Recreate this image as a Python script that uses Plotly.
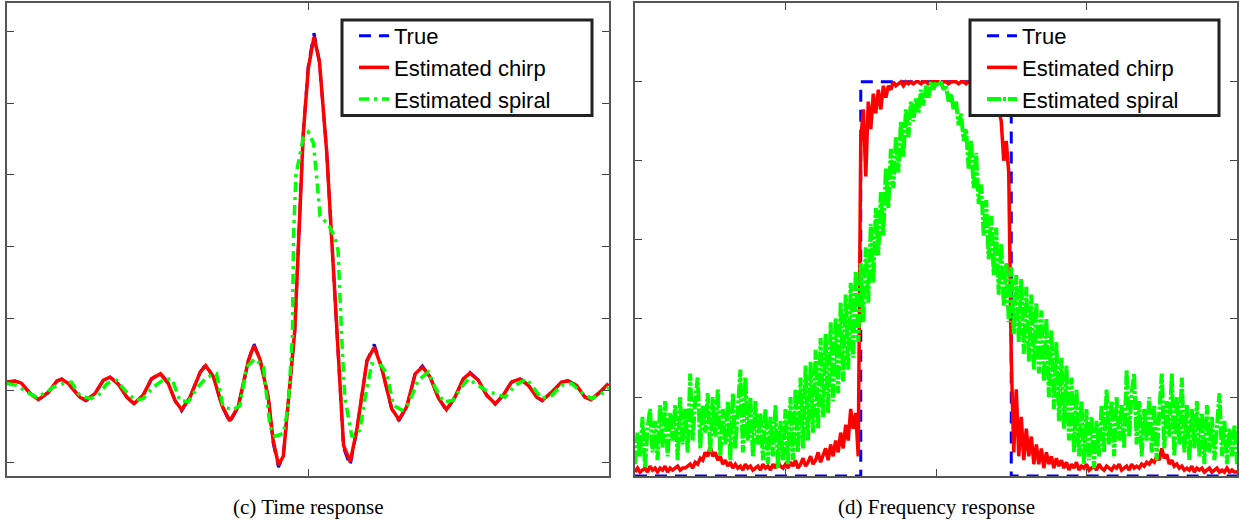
import numpy as np
import plotly.graph_objects as go

# ---------------- (c) Time response ----------------
t_chirp = [-50, -48.7, -47.6, -46.2, -44.8, -43.1, -41.7, -40.9, -39.8, -37.9,
           -36.9, -35.4, -34.0, -32.9, -31.5, -30.1, -28.9, -27.4, -26.0, -24.5,
           -23.2, -22.1, -21.0, -19.6, -17.9, -17.0, -15.7, -14.3, -13.0, -11.6,
           -9.9, -9.0, -8.0, -6.6, -5.8, -4.9, -4.1, -3.0, -2.2, -0.8,
           0.05, 1.0, 1.9, 3.1, 4.6, 5.9, 7.0, 8.1, 9.8, 11.0,
           12.2, 13.9, 15.1, 16.4, 17.8, 19.0, 20.3, 21.6, 23.0, 24.4,
           25.8, 26.9, 28.3, 29.7, 31.1, 32.4, 33.8, 35.2, 36.6, 38.0,
           38.9, 40.5, 42.1, 43.2, 44.6, 46.0, 47.0, 48.5, 49.9]
chirp_time = [0.023, 0.026, 0.020, -0.008, -0.026, -0.005, 0.026, 0.031, 0.019, -0.019,
              -0.028, -0.009, 0.028, 0.037, 0.017, -0.019, -0.037, -0.014, 0.032, 0.046,
              0.019, -0.028, -0.054, -0.019, 0.051, 0.069, 0.037, -0.042, -0.085, -0.046,
              0.083, 0.125, 0.088, -0.019, -0.139, -0.208, -0.183, 0.028, 0.166, 0.712,
              0.897, 0.985, 0.915, 0.666, 0.210, -0.153, -0.199, -0.111, 0.083, 0.120,
              0.065, -0.051, -0.081, -0.046, 0.046, 0.065, 0.037, -0.019, -0.054, -0.019,
              0.032, 0.048, 0.028, -0.014, -0.037, -0.014, 0.023, 0.032, 0.014, -0.019,
              -0.028, -0.005, 0.023, 0.026, 0.014, -0.019, -0.026, -0.005, 0.019]
true_time = [0.023, 0.026, 0.020, -0.008, -0.027, -0.005, 0.026, 0.032, 0.019, -0.019,
             -0.029, -0.009, 0.028, 0.038, 0.017, -0.019, -0.039, -0.014, 0.032, 0.048,
             0.019, -0.028, -0.057, -0.019, 0.051, 0.072, 0.037, -0.042, -0.090, -0.046,
             0.083, 0.130, 0.088, -0.019, -0.145, -0.214, -0.183, 0.028, 0.166, 0.712,
             0.905, 0.995, 0.915, 0.666, 0.210, -0.160, -0.210, -0.111, 0.083, 0.128,
             0.065, -0.051, -0.085, -0.046, 0.046, 0.068, 0.037, -0.019, -0.057, -0.019,
             0.032, 0.050, 0.028, -0.014, -0.039, -0.014, 0.023, 0.034, 0.014, -0.019,
             -0.029, -0.005, 0.023, 0.027, 0.014, -0.019, -0.027, -0.005, 0.019]
t_spiral = [-50, -48.4, -46.7, -45.1, -43.4, -42.3, -40.6, -39.3, -37.9, -36.2,
            -34.8, -33.4, -31.8, -30.4, -28.7, -27.4, -25.7, -24.0, -22.6, -21.3,
            -19.9, -18.5, -16.8, -15.2, -14.1, -12.4, -11.3, -10.2, -8.8, -7.4,
            -6.3, -5.5, -4.1, -3.3, -2.6, -2.4, -2.0, -1.3, -0.8, 0.05,
            0.9, 1.4, 2.0, 3.4, 4.5, 5.0, 5.3, 5.6, 6.1, 7.3,
            8.6, 9.5, 10.6, 12.2, 13.1, 14.2, 15.6, 16.7, 18.3, 20.0,
            21.1, 22.5, 24.1, 25.5, 26.6, 28.3, 30.0, 31.1, 32.7, 34.4,
            36.3, 37.4, 38.8, 40.5, 42.1, 43.8, 45.4, 47.1, 48.8, 49.9]
spiral_time = [0.019, 0.014, -0.005, -0.019, -0.005, 0.009, 0.019, 0.023, -0.014, -0.023,
               -0.014, 0.019, 0.028, 0.0, -0.028, -0.023, 0.009, 0.030, 0.032, -0.028,
               -0.032, 0.005, 0.037, 0.046, -0.046, -0.054, -0.042, 0.065, 0.088, 0.065,
               -0.102, -0.128, -0.120, -0.046, 0.148, 0.435, 0.601, 0.657, 0.703, 0.719,
               0.689, 0.601, 0.485, 0.462, 0.425, 0.388, 0.250, 0.148, -0.019, -0.130,
               -0.111, -0.019, 0.074, 0.069, 0.046, -0.042, -0.055, -0.037, 0.028, 0.051,
               0.009, -0.032, -0.028, 0.009, 0.032, 0.014, -0.005, -0.009, -0.019, 0.014,
               0.032, 0.009, -0.023, -0.014, 0.014, 0.019, -0.005, -0.023, -0.009, 0.009]

# ---------------- (d) Frequency response ----------------
freq_true = [0, 1.5, 1.5, 2.5, 2.5, 4]
true_freq = [0, 0, 1, 1, 0, 0]
freq_bins = np.linspace(0, 4, 241)
chirp_freq = [
    0.01, 0.02, 0.01, 0.015, 0.02, 0.01, 0.025, 0.015, 0.02, 0.01,
    0.02, 0.015, 0.025, 0.01, 0.02, 0.015, 0.02, 0.025, 0.015, 0.02,
    0.02, 0.025, 0.03, 0.02, 0.035, 0.03, 0.045, 0.04, 0.06, 0.05,
    0.075, 0.05, 0.06, 0.04, 0.05, 0.03, 0.04, 0.025, 0.035, 0.02,
    0.03, 0.02, 0.025, 0.015, 0.03, 0.02, 0.025, 0.015, 0.02, 0.025,
    0.015, 0.03, 0.02, 0.025, 0.015, 0.03, 0.02, 0.035, 0.025, 0.02,
    0.03, 0.02, 0.035, 0.025, 0.04, 0.02, 0.03, 0.045, 0.025, 0.035,
    0.05, 0.03, 0.04, 0.06, 0.035, 0.05, 0.07, 0.04, 0.08, 0.05,
    0.09, 0.06, 0.11, 0.07, 0.13, 0.09, 0.17, 0.12, 0.16, 0.05,
    0.85, 0.93, 0.76, 0.95, 0.88, 0.97, 0.92, 0.98, 0.93, 0.99,
    0.96, 0.99, 0.98, 1.0, 0.99, 0.995, 1.0, 0.99, 1.0, 0.995,
    1.0, 0.995, 1.0, 1.0, 0.995, 1.0, 1.0, 0.995, 1.0, 1.0,
    1.0, 1.0, 0.995, 1.0, 1.0, 0.995, 1.0, 1.0, 1.0, 0.995,
    1.0, 1.0, 0.995, 1.0, 1.0, 0.995, 1.0, 0.99, 1.0, 0.995,
    1.0, 0.99, 0.995, 0.98, 0.99, 0.93, 0.90, 0.80, 0.85, 0.77,
    0.30, 0.06, 0.22, 0.05, 0.15, 0.04, 0.12, 0.05, 0.10, 0.03,
    0.08, 0.03, 0.07, 0.02, 0.06, 0.03, 0.05, 0.02, 0.045, 0.025,
    0.04, 0.02, 0.035, 0.015, 0.03, 0.02, 0.035, 0.015, 0.025, 0.02,
    0.03, 0.015, 0.02, 0.025, 0.015, 0.03, 0.02, 0.015, 0.025, 0.02,
    0.015, 0.025, 0.02, 0.03, 0.015, 0.02, 0.025, 0.015, 0.03, 0.02,
    0.025, 0.02, 0.03, 0.025, 0.035, 0.03, 0.04, 0.035, 0.05, 0.04,
    0.07, 0.045, 0.055, 0.03, 0.04, 0.025, 0.03, 0.02, 0.025, 0.015,
    0.02, 0.015, 0.025, 0.01, 0.02, 0.015, 0.02, 0.01, 0.015, 0.02,
    0.01, 0.015, 0.02, 0.01, 0.015, 0.01, 0.02, 0.01, 0.015, 0.01,
    0.01]
spiral_freq = [
    0.03, 0.11, 0.05, 0.15, 0.02, 0.12, 0.17, 0.06, 0.14, 0.04,
    0.18, 0.07, 0.19, 0.05, 0.16, 0.09, 0.18, 0.04, 0.20, 0.08,
    0.17, 0.06, 0.26, 0.09, 0.19, 0.25, 0.07, 0.18, 0.11, 0.21,
    0.06, 0.20, 0.10, 0.22, 0.05, 0.17, 0.08, 0.19, 0.04, 0.21,
    0.07, 0.18, 0.27, 0.06, 0.25, 0.09, 0.20, 0.05, 0.19, 0.08,
    0.16, 0.04, 0.17, 0.03, 0.15, 0.05, 0.18, 0.02, 0.14, 0.04,
    0.17, 0.03, 0.20, 0.04, 0.22, 0.06, 0.25, 0.07, 0.28, 0.09,
    0.29, 0.11, 0.32, 0.12, 0.35, 0.15, 0.36, 0.16, 0.39, 0.19,
    0.40, 0.21, 0.44, 0.24, 0.46, 0.27, 0.49, 0.30, 0.52, 0.34,
    0.54, 0.39, 0.58, 0.44, 0.64, 0.49, 0.68, 0.56, 0.72, 0.61,
    0.78, 0.68, 0.83, 0.73, 0.86, 0.77, 0.90, 0.81, 0.93, 0.86,
    0.95, 0.90, 0.96, 0.92, 0.98, 0.94, 0.99, 0.96, 1.0, 0.98,
    1.0, 0.99, 1.0, 0.98, 0.99, 0.95, 0.97, 0.93, 0.95, 0.89,
    0.92, 0.85, 0.88, 0.78, 0.85, 0.73, 0.82, 0.69, 0.74, 0.61,
    0.70, 0.55, 0.66, 0.51, 0.63, 0.46, 0.59, 0.43, 0.54, 0.39,
    0.53, 0.36, 0.51, 0.34, 0.50, 0.31, 0.48, 0.29, 0.46, 0.27,
    0.44, 0.26, 0.42, 0.24, 0.40, 0.20, 0.37, 0.17, 0.34, 0.14,
    0.30, 0.12, 0.28, 0.09, 0.25, 0.06, 0.22, 0.05, 0.19, 0.03,
    0.17, 0.04, 0.15, 0.02, 0.14, 0.05, 0.18, 0.06, 0.22, 0.08,
    0.19, 0.05, 0.20, 0.09, 0.18, 0.07, 0.27, 0.10, 0.21, 0.26,
    0.08, 0.19, 0.05, 0.17, 0.09, 0.20, 0.06, 0.18, 0.04, 0.16,
    0.26, 0.07, 0.19, 0.10, 0.26, 0.05, 0.20, 0.08, 0.25, 0.06,
    0.18, 0.04, 0.17, 0.07, 0.19, 0.05, 0.16, 0.03, 0.18, 0.06,
    0.15, 0.04, 0.13, 0.21, 0.05, 0.14, 0.03, 0.12, 0.05, 0.13,
    0.03]

series_names = ["True", "Estimated chirp", "Estimated spiral"]
captions = ["(c) Time response", "(d) Frequency response"]

assert len(t_chirp) == len(chirp_time) == len(true_time)
assert len(t_spiral) == len(spiral_time)
assert len(freq_bins) == len(chirp_freq) == len(spiral_freq)

BLUE, RED, GREEN = "#0000FF", "#FF0000", "#00FF00"
true_line = dict(color=BLUE, width=3, dash="12px,8px")
chirp_line = dict(color=RED, width=3.5)
spiral_line = dict(color=GREEN, width=3.5, dash="10px,5px,3px,5px")
spiral_line_dense = dict(color=GREEN, width=4, dash="14px,2px,3px,2px")

fig = go.Figure()
# left subplot
fig.add_trace(go.Scatter(x=t_chirp, y=true_time, mode="lines", name=series_names[0],
                         line=true_line, xaxis="x", yaxis="y", legend="legend"))
fig.add_trace(go.Scatter(x=t_chirp, y=chirp_time, mode="lines", name=series_names[1],
                         line=chirp_line, xaxis="x", yaxis="y", legend="legend"))
fig.add_trace(go.Scatter(x=t_spiral, y=spiral_time, mode="lines", name=series_names[2],
                         line=spiral_line, xaxis="x", yaxis="y", legend="legend"))
# right subplot
fig.add_trace(go.Scatter(x=freq_true, y=true_freq, mode="lines", name=series_names[0],
                         line=true_line, xaxis="x2", yaxis="y2", legend="legend2"))
fig.add_trace(go.Scatter(x=freq_bins, y=chirp_freq, mode="lines", name=series_names[1],
                         line=chirp_line, xaxis="x2", yaxis="y2", legend="legend2"))
fig.add_trace(go.Scatter(x=freq_bins, y=spiral_freq, mode="lines", name=series_names[2],
                         line=spiral_line_dense, xaxis="x2", yaxis="y2", legend="legend2"))

W, H = 1243, 522
ML, MR, MT, MB = 7, 6, 1, 46
PW = W - ML - MR
PH = H - MT - MB

def px_x(px):
    return (px - ML) / PW

def px_y(py):
    return 1 - (py - MT) / PH

axis_common = dict(showgrid=False, zeroline=False, showticklabels=False,
                   ticks="inside", ticklen=7, tickwidth=1.3, tickcolor="#444444",
                   showline=True, linecolor="#555555", linewidth=1.6, mirror="ticks")

legend_common = dict(bgcolor="rgba(0,0,0,0)", borderwidth=0,
                     font=dict(family="Liberation Sans, Arial, sans-serif", size=22, color="black"),
                     xanchor="left", yanchor="top", tracegroupgap=0)

legend_frame = dict(type="rect", xref="paper", yref="paper", layer="above",
                    line=dict(color="#222222", width=3), fillcolor="white")

caption_font = dict(family="Liberation Serif, Times New Roman, serif", size=21, color="black")

fig.update_layout(
    width=W, height=H,
    margin=dict(l=ML, r=MR, t=MT, b=MB),
    paper_bgcolor="white", plot_bgcolor="white",
    showlegend=True,
    xaxis=dict(domain=[0, px_x(609)], range=[-50, 50], tickvals=[0], anchor="y", **axis_common),
    yaxis=dict(range=[-0.2386, 1.079], tickvals=[-0.2, 0, 0.2, 0.4, 0.6, 0.8, 1.0], anchor="x", **axis_common),
    xaxis2=dict(domain=[px_x(635), 1], range=[0, 4], tickvals=[1, 2, 3], anchor="y2", **axis_common),
    yaxis2=dict(range=[0, 1.2], tickvals=[0.2, 0.4, 0.6, 0.8, 1.0], anchor="x2", **axis_common),
    legend=dict(x=px_x(354), y=px_y(13), **legend_common),
    legend2=dict(x=px_x(982), y=px_y(13), **legend_common),
    shapes=[
        dict(x0=px_x(342), x1=px_x(592), y0=px_y(114), y1=px_y(18), **legend_frame),
        dict(x0=px_x(970), x1=px_x(1219), y0=px_y(114), y1=px_y(18), **legend_frame),
    ],
    annotations=[
        dict(text=captions[0], x=px_x(308), y=px_y(507), xref="paper", yref="paper",
             xanchor="center", yanchor="middle", showarrow=False, font=caption_font),
        dict(text=captions[1], x=px_x(936), y=px_y(507), xref="paper", yref="paper",
             xanchor="center", yanchor="middle", showarrow=False, font=caption_font),
    ],
)

fig.write_html("out.html")
